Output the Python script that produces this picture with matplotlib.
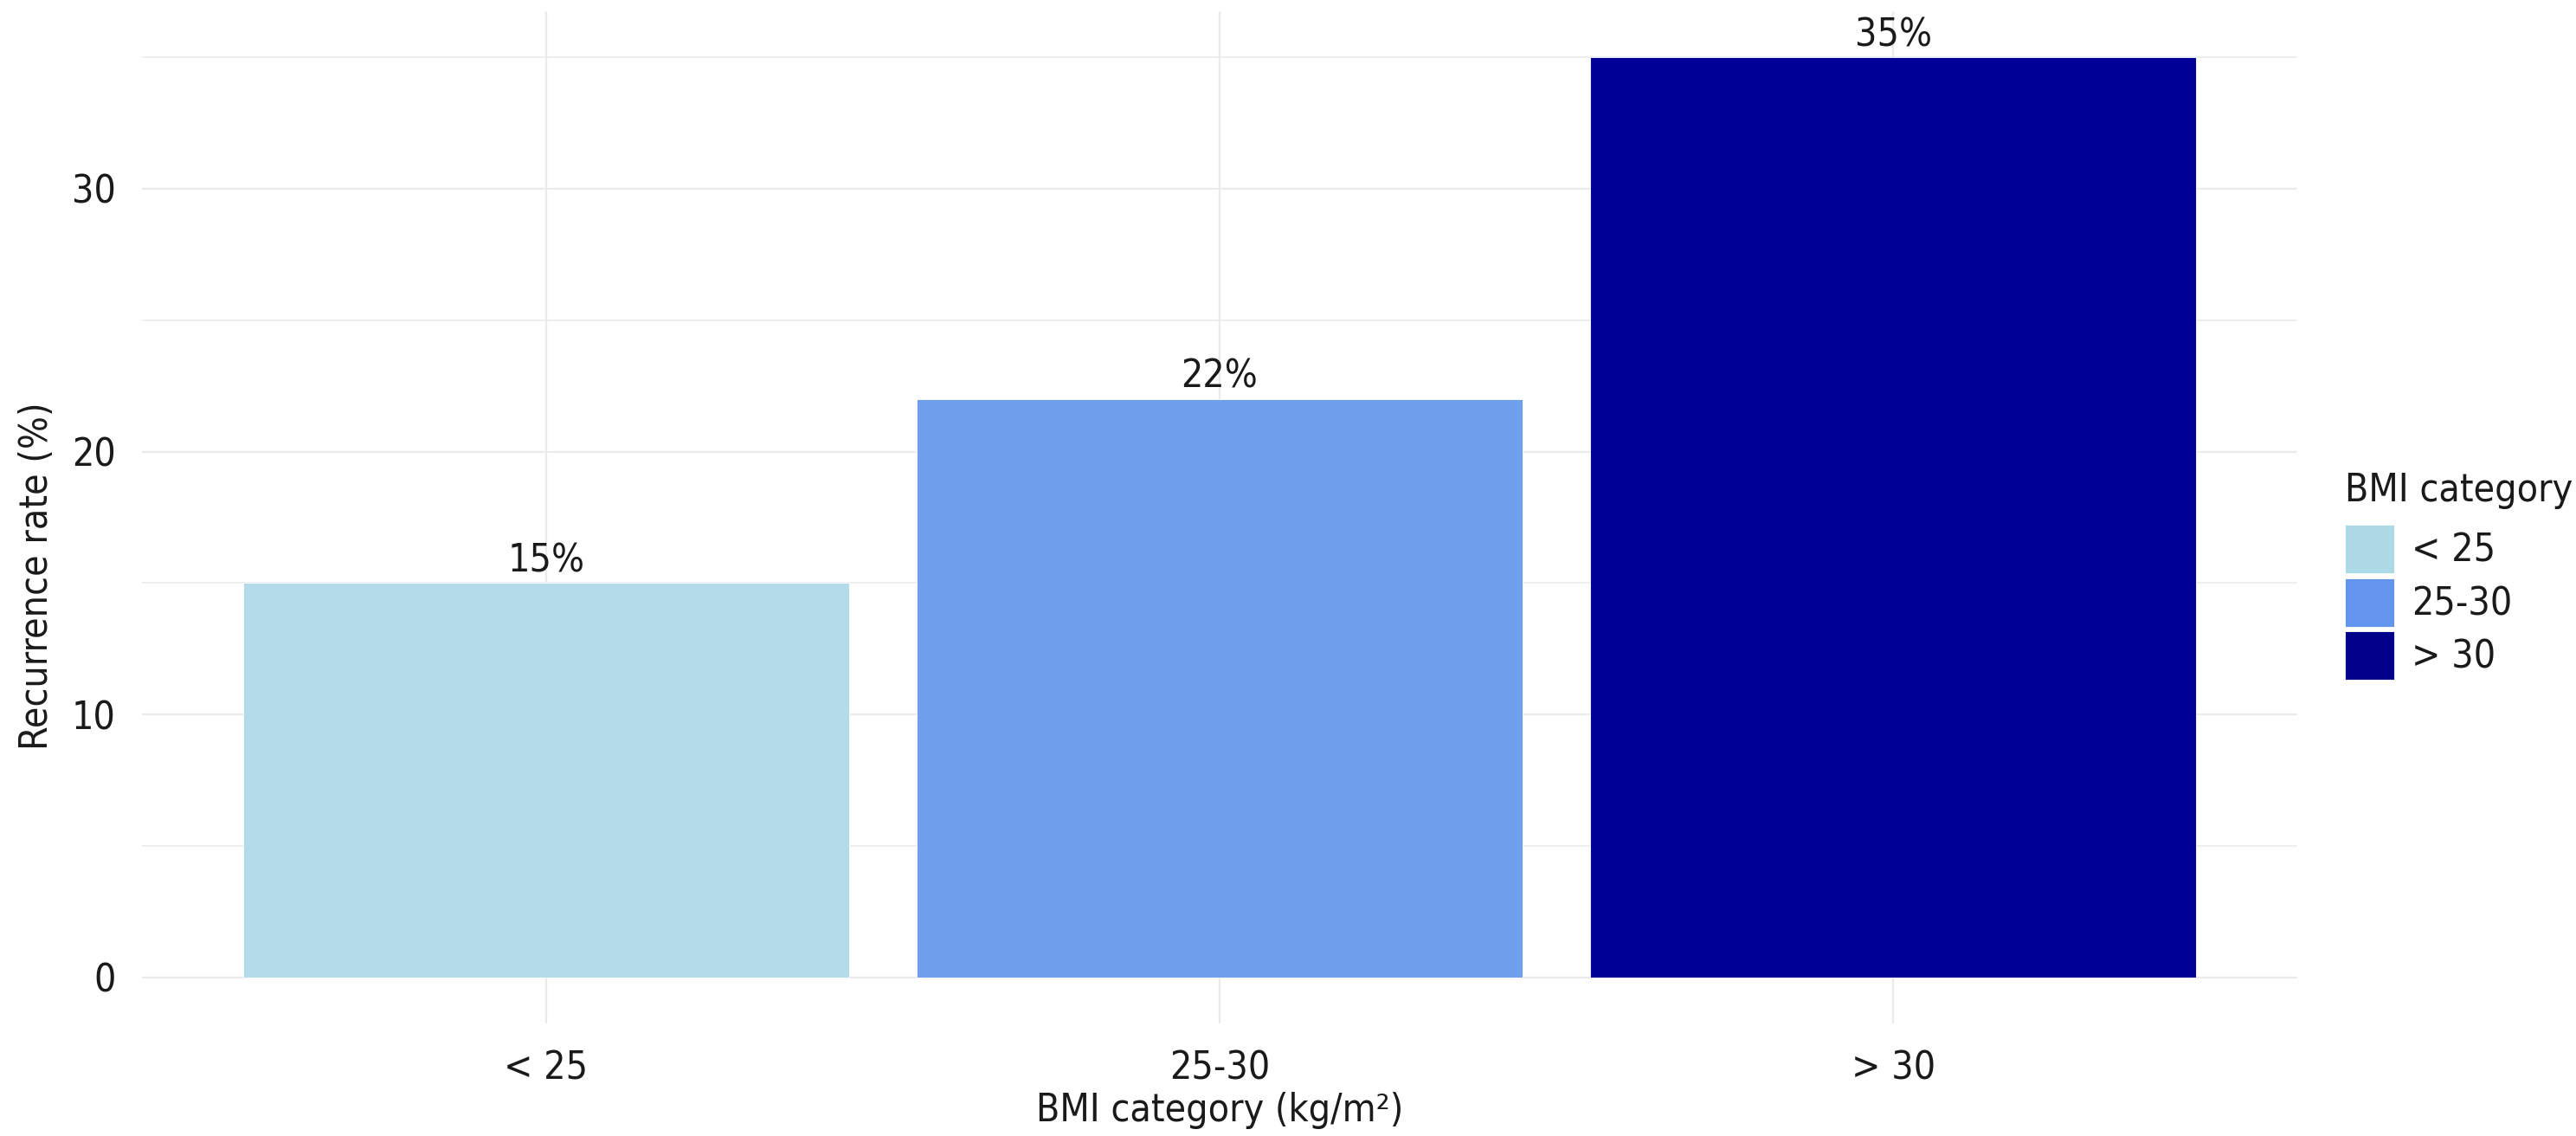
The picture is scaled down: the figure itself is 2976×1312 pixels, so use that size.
import matplotlib
matplotlib.use("Agg")
import matplotlib.pyplot as plt
from matplotlib.patches import Patch
from matplotlib.ticker import MultipleLocator

# ---- data ----
categories = ["< 25", "25-30", "> 30"]
recurrence = [15, 22, 35]
bar_colors = ["#B4DCE8", "#6F9EEB", "#000096"]
legend_colors = ["#ADD8E6", "#6495ED", "#00008B"]
y_ticks = [0, 10, 20, 30]

plt.rcParams["font.family"] = ["DejaVu Sans"]
plt.rcParams["font.stretch"] = "condensed"
TXT = "#1a1a1a"
FS = 32

W, H = 2976, 1312
fig = plt.figure(figsize=(W / 100, H / 100), dpi=100)
L, R, T, B = 164, 2654, 13, 1182
ax = fig.add_axes([L / W, 1 - B / H, (R - L) / W, (B - T) / H])

x = list(range(1, len(categories) + 1))
ax.bar(x, recurrence, width=0.9, color=bar_colors, edgecolor="white", linewidth=0.6, zorder=2)
for xi, v in zip(x, recurrence):
    ax.annotate(f"{v}%", (xi, v), xytext=(0, 9.4), textcoords="offset points",
                ha="center", va="baseline", fontsize=FS, color=TXT, zorder=3)

ax.set_xlim(0.4, 3.6)
ax.set_ylim(-1.75, 36.75)
ax.set_xticks(x)
ax.set_xticklabels(categories)
ax.set_yticks(y_ticks)
ax.yaxis.set_minor_locator(MultipleLocator(5))
ax.grid(True, which="major", color="#EBEBEB", linewidth=1.6, zorder=0)
ax.grid(True, which="minor", axis="y", color="#EBEBEB", linewidth=1.2, zorder=0)
ax.set_axisbelow(True)
for s in ax.spines.values():
    s.set_visible(False)
ax.tick_params(which="both", length=0, labelsize=FS, colors=TXT)
ax.tick_params(axis="x", pad=22)
ax.tick_params(axis="y", pad=22)

ax.set_xlabel("BMI category (kg/m²)", fontsize=FS, color=TXT)
ax.xaxis.set_label_coords(0.5, -0.068)
ax.set_ylabel("Recurrence rate (%)", fontsize=FS, color=TXT)
ax.yaxis.set_label_coords(-0.040, 0.442)

handles = [Patch(facecolor=c, edgecolor="white", linewidth=0.6) for c in legend_colors]
leg = fig.legend(handles, categories, title="BMI category", loc="upper left",
                 bbox_to_anchor=(2709 / W, 1 - 545 / H), frameon=False,
                 fontsize=FS, title_fontsize=FS, handlelength=1.28, handleheight=1.5615,
                 labelspacing=0.125, handletextpad=0.45, borderpad=0, borderaxespad=0,
                 alignment="left")
leg._legend_box.sep = 13
for t in leg.get_texts():
    t.set_color(TXT)
leg.get_title().set_color(TXT)

fig.savefig("out.png", dpi=100)
